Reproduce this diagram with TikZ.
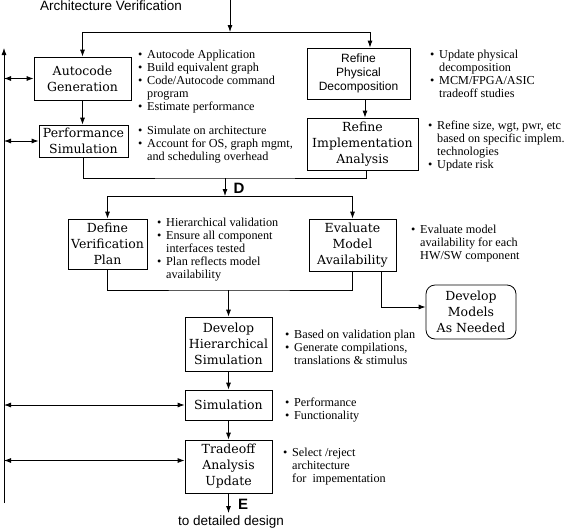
\documentclass[tikz,border=0pt]{standalone}
\usepackage{fontspec}
\setmainfont{Liberation Serif}
\newfontfamily\boxfont{DejaVu Serif}
\newfontfamily\labelfont{Liberation Sans}
\usepackage{tikz}
\usetikzlibrary{positioning,arrows.meta,calc}

\newcommand\bitem{\makebox[9pt][l]{\textbullet}}
\newcommand\bcont{\hspace*{9pt}}

\begin{document}
\begin{tikzpicture}[
    x=1pt, y=-1pt,
    box/.style={
        rectangle, draw, line width=0.8pt, inner sep=0pt, align=center,
        font=\boxfont\fontsize{12.5}{16}\selectfont
    },
    sansbox/.style={box, font=\labelfont\fontsize{12}{14}\selectfont},
    modelbox/.style={box, rounded corners=9pt},
    notes/.style={anchor=north west, inner sep=0pt, align=left,
        font=\fontsize{12.2}{13}\selectfont},
    header/.style={inner sep=0pt, font=\labelfont\fontsize{13.5}{15}\selectfont},
    tag/.style={inner sep=0pt, font=\labelfont\bfseries\fontsize{15}{15}\selectfont},
    line/.style={line width=0.8pt},
    arrow/.style={-{Latex[length=7pt,width=5pt]}, line width=0.8pt},
    twoway/.style={{Latex[length=7pt,width=5pt]}-{Latex[length=7pt,width=5pt]}, line width=0.8pt}
]
\useasboundingbox (0,0) rectangle (569,530);

\node[header] (title) at (111,5.5) {Architecture Verification};

\node[box, minimum width=97, minimum height=43] (autocode) at (82.5,78.5) {Autocode\\Generation};
\node[box, minimum width=89, minimum height=32] (perfsim) at (83.5,141) {Performance\\Simulation};
\node[sansbox, minimum width=103, minimum height=51] (refphys) at (358.5,73.5) {Refine\\Physical\\Decomposition};
\node[box, minimum width=111, minimum height=52] (refimpl) at (362.5,144) {Refine\\Implementation\\Analysis};
\node[box, minimum width=79, minimum height=50] (define) at (107.5,244) {Define\\Verification\\Plan};
\node[box, minimum width=87, minimum height=52] (evaluate) at (352.5,245) {Evaluate\\Model\\Availability};
\node[modelbox, minimum width=90, minimum height=54] (models) at (471,312) {Develop\\Models\\As Needed};
\node[box, minimum width=87, minimum height=54] (hier) at (228.5,344) {Develop\\Hierarchical\\Simulation};
\node[box, minimum width=87, minimum height=30] (sim) at (228.5,405) {Simulation};
\node[box, minimum width=87, minimum height=53] (tradeoff) at (228.5,466.5) {Tradeoff\\Analysis\\Update};

\node[notes] (autonotes) at (138,50) {\bitem Autocode Application\\\bitem Build equivalent graph\\\bitem Code/Autocode command\\\bcont program\\\bitem Estimate performance};
\node[notes] (perfnotes) at (138,126) {\bitem Simulate on architecture\\\bitem Account for OS, graph mgmt,\\\bcont and scheduling overhead};
\node[notes] (physnotes) at (430,50) {\bitem Update physical\\\bcont decomposition\\\bitem MCM/FPGA/ASIC\\\bcont tradeoff studies};
\node[notes] (implnotes) at (428,121) {\bitem Refine size, wgt, pwr, etc\\\bcont based on specific implem.\\\bcont technologies\\\bitem Update risk};
\node[notes] (definenotes) at (157,218) {\bitem Hierarchical validation\\\bitem Ensure all component\\\bcont interfaces tested\\\bitem Plan reflects model\\\bcont availability};
\node[notes] (evalnotes) at (411,225) {\bitem Evaluate model\\\bcont availability for each\\\bcont HW/SW component};
\node[notes] (hiernotes) at (285,330) {\bitem Based on validation plan\\\bitem Generate compilations,\\\bcont translations \& stimulus};
\node[notes] (simnotes) at (285,398) {\bitem Performance\\\bitem Functionality};
\node[notes] (tradenotes) at (283,448) {\bitem Select /reject\\\bcont architecture\\\bcont for\ \ impementation};

\coordinate (start) at (230,0);
\coordinate (fork1) at (230,32);
\draw[arrow] (start) -- (fork1);
\draw[arrow] (fork1) -| (autocode.north);
\draw[arrow] (fork1) -| ([xshift=11.5]refphys.north);
\draw[arrow] (autocode.south) -- (autocode.south |- perfsim.north);
\draw[arrow] ([xshift=6.5]refphys.south) -- ([xshift=6.5]refphys.south |- refimpl.north);

\coordinate (join1) at (225,178);
\coordinate (fork2) at (225,196);
\draw[line] (perfsim.south) |- (join1) -| ([xshift=3.5]refimpl.south);
\draw[arrow] (join1) -- (fork2);
\node[tag] (tagd) at (239,188) {D};
\draw[arrow] (fork2) -| (define.north);
\draw[arrow] (fork2) -| (evaluate.north);

\coordinate (join2) at (228.5,290);
\draw[line] (define.south) |- (join2) -| (evaluate.south);
\draw[arrow] (join2) -- (hier.north);
\draw[arrow] ([xshift=28.5]evaluate.south) |- ([yshift=5]models.west);

\draw[arrow] (hier) -- (sim);
\draw[arrow] (sim) -- (tradeoff);
\coordinate (finish) at (228.5,513);
\draw[arrow] (tradeoff) -- (finish);
\node[tag] (tage) at (243,504) {E};
\node[header] (dest) at (231,522) {to detailed design};

\coordinate (busbot) at (4,503);
\coordinate (bustop) at (4,48);
\draw[arrow] (busbot) -- (bustop);
\draw[twoway] (bustop |- autocode.west) -- (autocode.west);
\draw[twoway] (bustop |- perfsim.west) -- (perfsim.west);
\draw[twoway] (bustop |- sim.west) -- (sim.west);
\draw[twoway] ([yshift=6]tradeoff.west -| bustop) -- ([yshift=6]tradeoff.west);
\end{tikzpicture}
\end{document}
